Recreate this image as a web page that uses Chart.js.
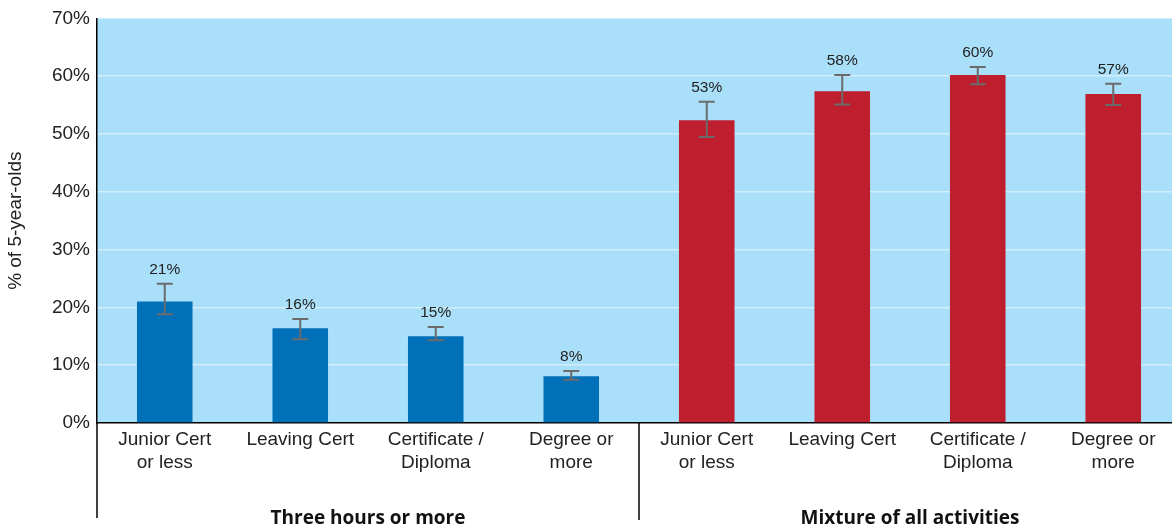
<!DOCTYPE html>
<html>
<head>
<meta charset="utf-8">
<script src="https://cdn.jsdelivr.net/npm/chart.js@4.4.1/dist/chart.umd.min.js"></script>
<style>
  html, body { margin: 0; padding: 0; background: #fff; overflow: hidden; }
  #wrap { width: 1181px; height: 528px; position: relative; }
</style>
</head>
<body>
<div id="wrap"><canvas id="chart"></canvas></div>
<script>
const categories = [
  ["Junior Cert", "or less"], "Leaving Cert", ["Certificate /", "Diploma"], ["Degree or", "more"],
  ["Junior Cert", "or less"], "Leaving Cert", ["Certificate /", "Diploma"], ["Degree or", "more"]
];
const groups      = ["Three hours or more", "Mixture of all activities"];
const values      = [21.0, 16.4, 15.0, 8.1, 52.4, 57.4, 60.2, 56.9];
const errLow      = [18.8, 14.5, 14.3, 7.5, 49.5, 55.1, 58.6, 55.0];
const errHigh     = [24.1, 18.0, 16.6, 9.0, 55.6, 60.2, 61.6, 58.7];
const valueLabels = ["21%", "16%", "15%", "8%", "53%", "58%", "60%", "57%"];
const yTicks      = [0, 10, 20, 30, 40, 50, 60, 70];

const BLUE = "#0070b8";
const RED  = "#be1e2d";
const FONT = "'Liberation Sans', Arial, sans-serif";
const barColors = values.map((v, i) => i < 4 ? BLUE : RED);

const extras = {
  id: "extras",
  beforeDraw(chart) {
    const { ctx, chartArea: a } = chart;
    ctx.save();
    ctx.fillStyle = "#aadff9";
    ctx.fillRect(a.left, a.top, a.right - a.left, a.bottom - a.top);
    ctx.restore();
  },
  afterDatasetsDraw(chart) {
    const { ctx } = chart;
    const y = chart.scales.y;
    const meta = chart.getDatasetMeta(0);
    ctx.save();
    ctx.strokeStyle = "#6b6b6b";
    ctx.lineWidth = 2;
    meta.data.forEach((bar, i) => {
      const yHi = y.getPixelForValue(errHigh[i]);
      const yLo = y.getPixelForValue(errLow[i]);
      ctx.beginPath();
      ctx.moveTo(bar.x, yHi); ctx.lineTo(bar.x, yLo);
      ctx.moveTo(bar.x - 8, yHi); ctx.lineTo(bar.x + 8, yHi);
      ctx.moveTo(bar.x - 8, yLo); ctx.lineTo(bar.x + 8, yLo);
      ctx.stroke();
    });
    ctx.fillStyle = "#222";
    ctx.font = "15.5px " + FONT;
    ctx.textAlign = "center";
    ctx.textBaseline = "alphabetic";
    meta.data.forEach((bar, i) => {
      ctx.fillText(valueLabels[i], bar.x, y.getPixelForValue(errHigh[i]) - 10);
    });
    ctx.restore();
  },
  afterDraw(chart) {
    const { ctx, chartArea: a } = chart;
    const x = chart.scales.x;
    const sep = (x.getPixelForValue(3) + x.getPixelForValue(4)) / 2;
    ctx.save();
    ctx.strokeStyle = "#000";
    ctx.lineWidth = 1.5;
    ctx.beginPath();
    ctx.moveTo(a.left, a.bottom); ctx.lineTo(a.left, 518);
    ctx.moveTo(sep, a.bottom); ctx.lineTo(sep, 520);
    ctx.stroke();
    ctx.fillStyle = "#111";
    ctx.font = "bold 19px 'Open Sans', sans-serif";
    ctx.textAlign = "center";
    ctx.textBaseline = "alphabetic";
    const g1 = (x.getPixelForValue(0) + x.getPixelForValue(3)) / 2;
    const g2 = (x.getPixelForValue(4) + x.getPixelForValue(7)) / 2;
    ctx.fillText(groups[0], g1, 524);
    ctx.fillText(groups[1], g2, 524);
    ctx.restore();
  }
};

new Chart(document.getElementById("chart"), {
  type: "bar",
  data: {
    labels: categories,
    datasets: [{
      data: values,
      backgroundColor: barColors,
      barPercentage: 0.41,
      categoryPercentage: 1.0
    }]
  },
  options: {
    responsive: true,
    maintainAspectRatio: false,
    animation: false,
    layout: { padding: { top: 17, right: 0, left: 0, bottom: 0 } },
    plugins: { legend: { display: false }, tooltip: { enabled: false } },
    scales: {
      x: {
        afterFit: s => { s.height = 105; },
        grid: { display: false, drawTicks: false },
        border: { color: "#000", width: 1.5 },
        ticks: {
          color: "#222",
          padding: 5,
          maxRotation: 0,
          autoSkip: false,
          font: { family: FONT, size: 19, lineHeight: 1.21 }
        }
      },
      y: {
        min: 0,
        max: 70,
        afterFit: s => { s.width = 97; },
        afterBuildTicks: s => { s.ticks = yTicks.map(v => ({ value: v })); },
        grid: {
          drawTicks: false,
          color: c => (c.tick.value === 0 || c.tick.value === 70) ? "rgba(0,0,0,0)" : "#d2eefb",
          lineWidth: 1.5
        },
        border: { color: "#000", width: 1.5 },
        ticks: {
          color: "#222",
          padding: 7,
          callback: v => v + "%",
          font: { family: FONT, size: 19 }
        },
        title: {
          display: true,
          text: "% of 5-year-olds",
          color: "#222",
          padding: { top: 4, bottom: 0 },
          font: { family: FONT, size: 19 }
        }
      }
    }
  },
  plugins: [extras]
});
</script>
</body>
</html>
